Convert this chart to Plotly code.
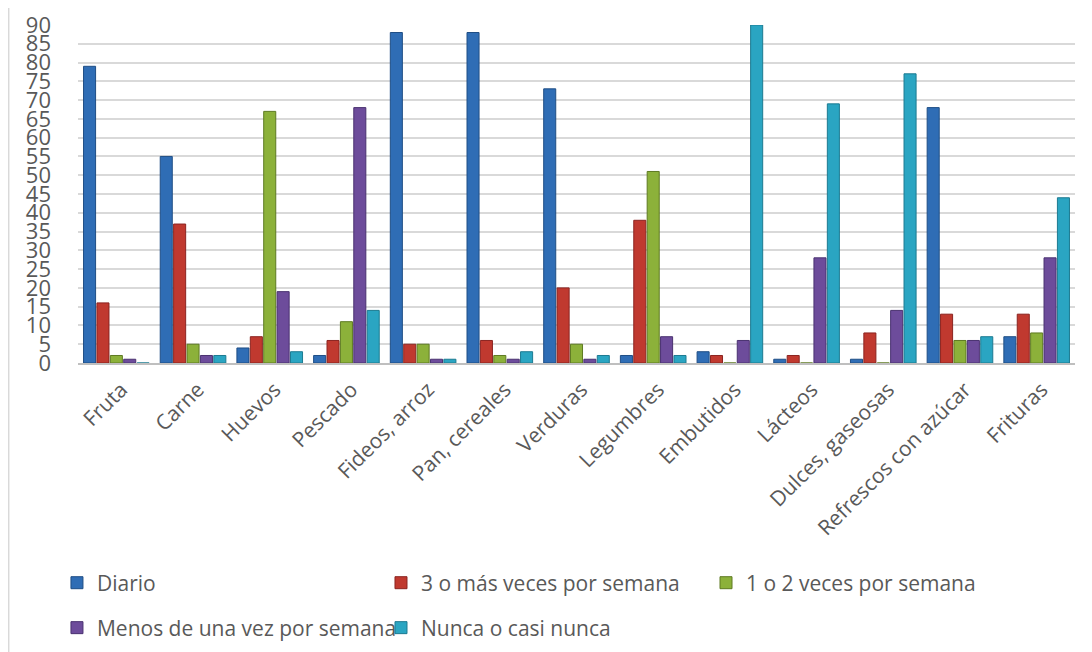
import plotly.graph_objects as go

categories = ["Fruta", "Carne", "Huevos", "Pescado", "Fideos, arroz", "Pan, cereales",
              "Verduras", "Legumbres", "Embutidos", "Lácteos", "Dulces, gaseosas",
              "Refrescos con azúcar", "Frituras"]

diario = [79, 55, 4, 2, 88, 88, 73, 2, 3, 1, 1, 68, 7]
tres_o_mas = [16, 37, 7, 6, 5, 6, 20, 38, 2, 2, 8, 13, 13]
uno_o_dos = [2, 5, 67, 11, 5, 2, 5, 51, 0, 0, 0, 6, 8]
menos_una = [1, 2, 19, 68, 1, 1, 1, 7, 6, 28, 14, 6, 28]
nunca = [0, 2, 3, 14, 1, 3, 2, 2, 90, 69, 77, 7, 44]

series_names = ["Diario", "3 o más veces por semana", "1 o 2 veces por semana",
                "Menos de una vez por semana", "Nunca o casi nunca"]
series_values = [diario, tres_o_mas, uno_o_dos, menos_una, nunca]
fill_colors = ["#2F6DB5", "#C0392F", "#8CB13A", "#6D4C9B", "#2AA5C2"]
edge_colors = ["#1F4E85", "#8B2420", "#5E7A22", "#4A3270", "#1C7A91"]

y_ticks = list(range(0, 91, 5))

# legend placement (paper coords) for each series
legend_pos = [(-0.0211, -0.651), (0.3039, -0.651), (0.6299, -0.651),
              (-0.0211, -0.784), (0.3039, -0.784)]

FONT = "Open Sans"
TXT = "#595959"

fig = go.Figure()
for i, (name, vals) in enumerate(zip(series_names, series_values)):
    lg = "legend" if i == 0 else f"legend{i+1}"
    fig.add_trace(go.Bar(
        x=categories, y=vals, name=name,
        marker=dict(color=fill_colors[i], line=dict(color=edge_colors[i], width=1)),
        legend=lg,
    ))

layout_legends = {}
for i, (lx, ly) in enumerate(legend_pos):
    key = "legend" if i == 0 else f"legend{i+1}"
    layout_legends[key] = dict(
        x=lx, y=ly, xanchor="left", yanchor="middle",
        font=dict(family=FONT, size=21, color=TXT),
        bgcolor="rgba(0,0,0,0)", borderwidth=0,
    )

fig.update_layout(
    width=1092, height=652,
    margin=dict(l=70, r=25, t=17, b=297, autoexpand=False),
    paper_bgcolor="white", plot_bgcolor="white",
    barmode="group", bargap=0.127, bargroupgap=0.1,
    font=dict(family=FONT, color=TXT),
    showlegend=True,
    **layout_legends,
)

fig.update_yaxes(
    range=[0, 90], tickvals=y_ticks, ticktext=[str(v) for v in y_ticks],
    showgrid=True, gridcolor="#D9D9D9", gridwidth=2,
    zeroline=False, showline=False, automargin=False,
    tickfont=dict(family=FONT, size=22, color=TXT),
    ticks="", ticklabelstandoff=26,
)
fig.update_xaxes(
    showgrid=False, showline=True, linecolor="#BFBFBF", linewidth=2,
    tickangle=-45, tickfont=dict(family=FONT, size=21, color=TXT),
    ticks="", automargin=False, ticklabelshift=5, ticklabelstandoff=4,
)

# chart-area left border
fig.add_shape(type="line", xref="paper", yref="paper",
              x0=-0.0695, x1=-0.0695, y0=-0.9, y1=1.08,
              line=dict(color="#D9D9D9", width=1.5))

fig.write_html("out.html")
